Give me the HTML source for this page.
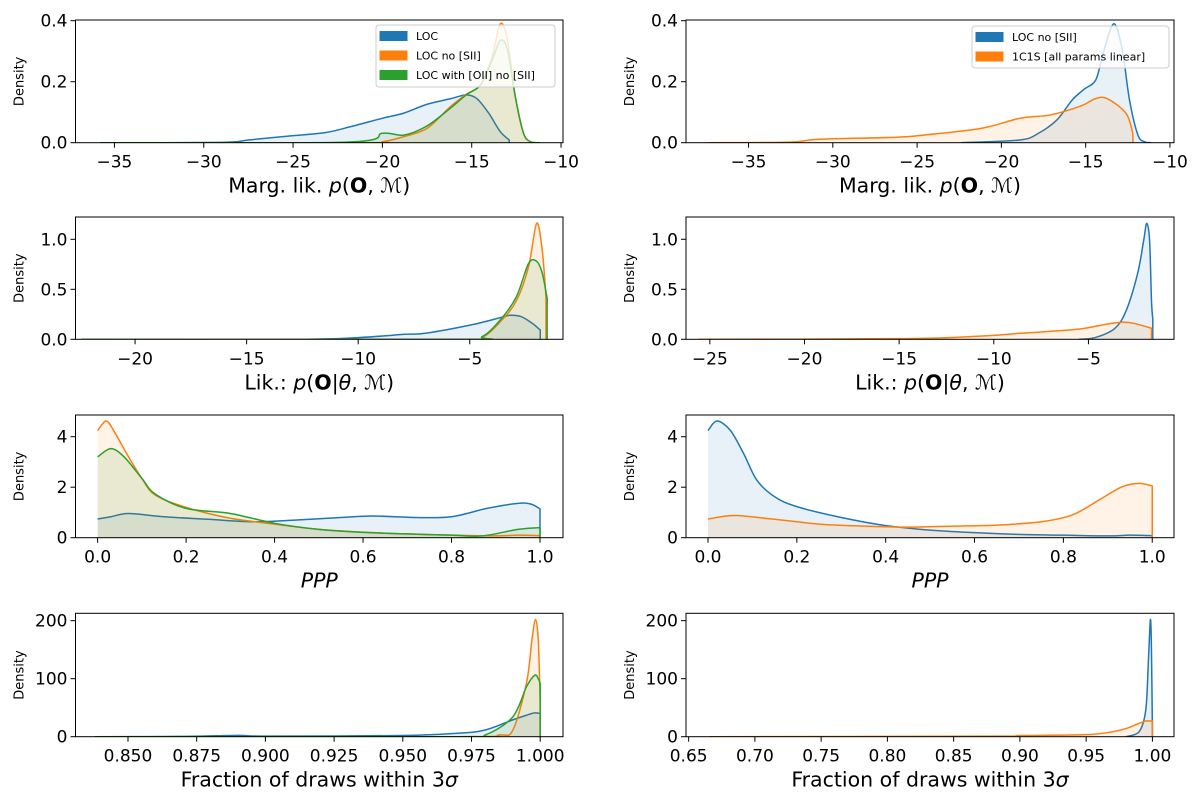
<!DOCTYPE html>
<html><head><meta charset="utf-8">
<style>
html,body{margin:0;padding:0;background:#fff;}
svg{display:block;font-family:"DejaVu Sans","Liberation Sans",sans-serif;}
</style></head>
<body>
<svg id="fig" width="1200" height="799" viewBox="0 0 1200 799" xmlns="http://www.w3.org/2000/svg"></svg>
<script>
// ---- Data arrays ----
const r1L_loc_x = [-35.8,-29,-27.5,-25.2,-23.2,-21.75,-20.0,-18.8,-17.5,-16.2,-15.3,-14.7,-14.05,-13.4,-12.9];
const r1L_loc_y = [0,0.001,0.009,0.022,0.033,0.053,0.080,0.097,0.126,0.144,0.157,0.144,0.097,0.036,0.009];
const r1L_nos_x = [-35.8,-21,-20,-18.8,-17.5,-16.2,-15.3,-14.5,-13.85,-13.4,-13.0,-12.56,-12.1,-11.7,-11.2];
const r1L_nos_y = [0,0,0.003,0.02,0.047,0.118,0.159,0.19,0.283,0.39,0.338,0.151,0.031,0.003,0];
const r1L_oii_x = [-35.8,-22,-20,-18.8,-17.5,-16.2,-15.3,-14.5,-13.85,-13.4,-13.0,-12.56,-12.1,-11.7,-11.2];
const r1L_oii_y = [0,0.002,0.031,0.025,0.055,0.113,0.157,0.19,0.272,0.335,0.305,0.151,0.031,0.003,0];
const r1R_nos_x = [-22.4,-18.9,-17.8,-16.7,-15.8,-15.1,-14.4,-13.96,-13.33,-12.83,-12.4,-11.9,-11.5,-11.13];
const r1R_nos_y = [0,0.009,0.031,0.075,0.14,0.175,0.206,0.294,0.39,0.305,0.14,0.025,0.003,0];
const r1R_c1s_x = [-37.4,-32.5,-30.9,-26.2,-24.6,-21.2,-18.9,-17.1,-15.3,-14.4,-13.7,-12.6,-12.2];
const r1R_c1s_y = [0,0.002,0.011,0.018,0.025,0.047,0.08,0.091,0.12,0.145,0.144,0.096,0.031];
const r2L_loc_x = [-22.4,-12.75,-10,-7.9,-7.0,-4.96,-3.57,-3.2,-2.7,-2.2,-1.84];
const r2L_loc_y = [0,0,0.017,0.05,0.06,0.143,0.22,0.24,0.227,0.16,0.093];
const r2L_nos_x = [-22.4,-5.5,-4.44,-3.57,-2.9,-2.36,-2.0,-1.75,-1.58];
const r2L_nos_y = [0,0,0.02,0.19,0.39,0.73,1.16,0.89,0.41];
const r2L_oii_x = [-22.4,-5.5,-4.44,-3.57,-2.9,-2.36,-2.0,-1.75,-1.53];
const r2L_oii_y = [0,0,0.027,0.21,0.43,0.76,0.78,0.66,0.41];
const r2R_nos_x = [-5.5,-4.6,-3.6,-3.0,-2.4,-2.08,-1.92,-1.77,-1.67,-1.6];
const r2R_nos_y = [0,0.02,0.11,0.29,0.66,0.99,1.16,0.99,0.39,0.2];
const r2R_c1s_x = [-25.6,-14.7,-10.6,-8.6,-5.6,-4.0,-3.2,-2.6,-1.67];
const r2R_c1s_y = [0,0.007,0.033,0.06,0.1,0.153,0.17,0.16,0.11];
const r3L_loc_x = [0,0.03,0.07,0.15,0.25,0.35,0.45,0.55,0.62,0.72,0.8,0.88,0.95,0.98,1.0];
const r3L_loc_y = [0.74,0.83,0.96,0.83,0.73,0.63,0.70,0.80,0.86,0.80,0.83,1.16,1.36,1.33,1.14];
const r3L_nos_x = [0,0.02,0.04,0.07,0.1,0.13,0.2,0.3,0.4,0.5,0.6,0.7,0.8,0.9,0.95,1.0];
const r3L_nos_y = [4.24,4.62,4.13,3.2,2.35,1.69,1.2,0.77,0.54,0.33,0.22,0.15,0.1,0.07,0.1,0.08];
const r3L_oii_x = [0,0.03,0.06,0.1,0.13,0.2,0.3,0.4,0.5,0.6,0.7,0.8,0.87,0.95,1.0];
const r3L_oii_y = [3.2,3.53,3.2,2.35,1.73,1.16,0.96,0.57,0.33,0.21,0.15,0.1,0.07,0.33,0.4];
const r3R_nos_x = [0,0.02,0.05,0.08,0.11,0.15,0.2,0.3,0.4,0.5,0.6,0.7,0.8,0.9,0.95,1.0];
const r3R_nos_y = [4.24,4.62,4.26,3.34,2.28,1.62,1.23,0.8,0.48,0.3,0.2,0.13,0.1,0.07,0.1,0.08];
const r3R_c1s_x = [0,0.06,0.15,0.25,0.35,0.45,0.55,0.65,0.75,0.82,0.88,0.93,0.97,1.0];
const r3R_c1s_y = [0.74,0.88,0.73,0.54,0.46,0.42,0.46,0.5,0.63,0.9,1.49,2.0,2.15,2.05];
const r4L_loc_x = [0.838,0.87,0.89,0.90,0.95,0.97,0.98,0.99,0.995,0.998,1.0];
const r4L_loc_y = [0,0.5,2.3,1,2,6,11.5,29,37,41,40];
const r4L_nos_x = [0.838,0.97,0.985,0.99,0.995,0.997,0.9983,0.9993,1.0];
const r4L_nos_y = [0,0,3,11,92,167,202,167,60];
const r4L_oii_x = [0.838,0.97,0.98,0.99,0.995,0.998,0.9993,1.0];
const r4L_oii_y = [0,0,3,34,86,106,100,92];
const r4R_nos_x = [0.98,0.99,0.995,0.997,0.9985,0.9993,1.0];
const r4R_nos_y = [0,8.6,46,132,202,149,10];
const r4R_c1s_x = [0.666,0.88,0.9,0.95,0.97,0.98,0.99,0.995,1.0];
const r4R_c1s_y = [0,1,2,3.5,8.6,14,23,27,27];

const r1L_ticks = [-35,-30,-25,-20,-15,-10];
const r1R_ticks = [-35,-30,-25,-20,-15,-10];
const r1_yticks = [0.0,0.2,0.4];
const r2L_ticks = [-20,-15,-10,-5];
const r2R_ticks = [-25,-20,-15,-10,-5];
const r2_yticks = [0.0,0.5,1.0];
const r3_ticks = [0.0,0.2,0.4,0.6,0.8,1.0];
const r3_yticks = [0,2,4];
const r4L_ticks = [0.850,0.875,0.900,0.925,0.950,0.975,1.000];
const r4R_ticks = [0.65,0.70,0.75,0.80,0.85,0.90,0.95,1.00];
const r4_yticks = [0,100,200];

const BLUE="#1f77b4", ORANGE="#ff7f0e", GREEN="#2ca02c";
const NS="http://www.w3.org/2000/svg";
const svg=document.getElementById('fig');
function el(tag,attrs,parent){const e=document.createElementNS(NS,tag);for(const k in attrs)e.setAttribute(k,attrs[k]);(parent||svg).appendChild(e);return e;}

function smoothPath(P){
  let d='M'+P[0][0].toFixed(2)+','+P[0][1].toFixed(2);
  for(let i=0;i<P.length-1;i++){
    const p0=P[Math.max(i-1,0)],p1=P[i],p2=P[i+1],p3=P[Math.min(i+2,P.length-1)];
    const t=0.16;
    const c1=[p1[0]+(p2[0]-p0[0])*t,p1[1]+(p2[1]-p0[1])*t];
    const c2=[p2[0]-(p3[0]-p1[0])*t,p2[1]-(p3[1]-p1[1])*t];
    d+='C'+c1[0].toFixed(2)+','+c1[1].toFixed(2)+' '+c2[0].toFixed(2)+','+c2[1].toFixed(2)+' '+p2[0].toFixed(2)+','+p2[1].toFixed(2);
  }
  return d;
}

function panel(o){
  const g=el('g',{});
  
  
  const sx=v=>o.x0+(v-o.xlim[0])/(o.xlim[1]-o.xlim[0])*(o.x1-o.x0);
  const sy=v=>o.y1-(v-o.ylim[0])/(o.ylim[1]-o.ylim[0])*(o.y1-o.y0);
  const clipId='clip-'+o.name;
  const cp=el('clipPath',{id:clipId},g); el('rect',{x:o.x0,y:o.y0,width:o.x1-o.x0,height:o.y1-o.y0},cp);
  const plot=el('g',{'clip-path':'url(#'+clipId+')'},g);
  o.series.forEach(s=>{
    const P=s.x.map((v,i)=>[sx(v),Math.min(sy(s.y[i]),sy(0))]);
    const d=smoothPath(P);
    const xe=sx(s.x[s.x.length-1]).toFixed(2), xs=sx(s.x[0]).toFixed(2), yb=sy(0).toFixed(2);
    const f=el('path',{d:d+'L'+xe+','+yb+'L'+xs+','+yb+'Z',fill:s.c,'fill-opacity':0.1,stroke:'none'},plot);
    
    
    const l=el('path',{d:d+'L'+xe+','+yb,fill:'none',stroke:s.c,'stroke-width':1.5,'stroke-linejoin':'round'},plot);
    
    
  });
  const fr=el('rect',{x:o.x0,y:o.y0,width:o.x1-o.x0,height:o.y1-o.y0,fill:'none',stroke:'#000','stroke-width':1},g);
  
  
  o.xticks.forEach(t=>{
    const x=sx(t);
    el('line',{x1:x,y1:o.y1,x2:x,y2:o.y1+5,stroke:'#000','stroke-width':1},g);
    const tx=el('text',{x:x,y:o.y1+25,'font-size':17,'text-anchor':'middle'},g);
    tx.textContent=(t<0?'\u2212':'')+Math.abs(t).toFixed(o.xdec);
    
    
  });
  o.yticks.forEach(t=>{
    const y=sy(t);
    el('line',{x1:o.x0-5,y1:y,x2:o.x0,y2:y,stroke:'#000','stroke-width':1},g);
    const tx=el('text',{x:o.x0-8,y:y+6,'font-size':17,'text-anchor':'end'},g);
    tx.textContent=t.toFixed(o.ydec);
    
    
  });
  const yl=el('text',{x:0,y:0,'font-size':13,'text-anchor':'middle',transform:'translate('+(o.x0-52)+','+((o.y0+o.y1)/2)+') rotate(-90)'},g);
  yl.textContent='Density';
  
  
  const xl=el('text',{x:(o.x0+o.x1)/2,y:o.y1+50,'font-size':20.5,'text-anchor':'middle'},g);
  xl.innerHTML=o.xlabel;
  
  
  return g;
}

const LBL_MARG='Marg. lik. <tspan font-style="italic">p</tspan>(<tspan font-weight="bold">O</tspan>, <tspan font-style="italic">ℳ</tspan>)';
const LBL_LIK='Lik.: <tspan font-style="italic">p</tspan>(<tspan font-weight="bold">O</tspan>|<tspan font-style="italic">θ</tspan>, <tspan font-style="italic">ℳ</tspan>)';
const LBL_PPP='<tspan font-style="italic">PPP</tspan>';
const LBL_FR='Fraction of draws within 3<tspan font-style="italic">σ</tspan>';

const LX0=75.5,LX1=563,RX0=686,RX1=1174;
const rows=[[20,142.7],[217,339.3],[415,537.7],[613.3,736.7]];

panel({name:'panel-marg-lik-left',x0:LX0,x1:LX1,y0:rows[0][0],y1:rows[0][1],xlim:[-37.18,-9.89],ylim:[0,0.4023],xticks:r1L_ticks,xdec:0,yticks:r1_yticks,ydec:1,xlabel:LBL_MARG,
 series:[{name:'loc',x:r1L_loc_x,y:r1L_loc_y,c:BLUE},{name:'loc-no-sii',x:r1L_nos_x,y:r1L_nos_y,c:ORANGE},{name:'loc-oii-no-sii',x:r1L_oii_x,y:r1L_oii_y,c:GREEN}]});
panel({name:'panel-marg-lik-right',x0:RX0,x1:RX1,y0:rows[0][0],y1:rows[0][1],xlim:[-38.71,-9.76],ylim:[0,0.4023],xticks:r1R_ticks,xdec:0,yticks:r1_yticks,ydec:1,xlabel:LBL_MARG,
 series:[{name:'loc-no-sii',x:r1R_nos_x,y:r1R_nos_y,c:BLUE},{name:'1c1s',x:r1R_c1s_x,y:r1R_c1s_y,c:ORANGE}]});
panel({name:'panel-lik-left',x0:LX0,x1:LX1,y0:rows[1][0],y1:rows[1][1],xlim:[-22.67,-0.82],ylim:[0,1.223],xticks:r2L_ticks,xdec:0,yticks:r2_yticks,ydec:1,xlabel:LBL_LIK,
 series:[{name:'loc',x:r2L_loc_x,y:r2L_loc_y,c:BLUE},{name:'loc-no-sii',x:r2L_nos_x,y:r2L_nos_y,c:ORANGE},{name:'loc-oii-no-sii',x:r2L_oii_x,y:r2L_oii_y,c:GREEN}]});
panel({name:'panel-lik-right',x0:RX0,x1:RX1,y0:rows[1][0],y1:rows[1][1],xlim:[-26.26,-0.48],ylim:[0,1.223],xticks:r2R_ticks,xdec:0,yticks:r2_yticks,ydec:1,xlabel:LBL_LIK,
 series:[{name:'loc-no-sii',x:r2R_nos_x,y:r2R_nos_y,c:BLUE},{name:'1c1s',x:r2R_c1s_x,y:r2R_c1s_y,c:ORANGE}]});
panel({name:'panel-ppp-left',x0:LX0,x1:LX1,y0:rows[2][0],y1:rows[2][1],xlim:[-0.05,1.052],ylim:[0,4.86],xticks:r3_ticks,xdec:1,yticks:r3_yticks,ydec:0,xlabel:LBL_PPP,
 series:[{name:'loc',x:r3L_loc_x,y:r3L_loc_y,c:BLUE},{name:'loc-no-sii',x:r3L_nos_x,y:r3L_nos_y,c:ORANGE},{name:'loc-oii-no-sii',x:r3L_oii_x,y:r3L_oii_y,c:GREEN}]});
panel({name:'panel-ppp-right',x0:RX0,x1:RX1,y0:rows[2][0],y1:rows[2][1],xlim:[-0.0495,1.049],ylim:[0,4.86],xticks:r3_ticks,xdec:1,yticks:r3_yticks,ydec:0,xlabel:LBL_PPP,
 series:[{name:'loc-no-sii',x:r3R_nos_x,y:r3R_nos_y,c:BLUE},{name:'1c1s',x:r3R_c1s_x,y:r3R_c1s_y,c:ORANGE}]});
panel({name:'panel-frac-left',x0:LX0,x1:LX1,y0:rows[3][0],y1:rows[3][1],xlim:[0.8309,1.0083],ylim:[0,212.7],xticks:r4L_ticks,xdec:3,yticks:r4_yticks,ydec:0,xlabel:LBL_FR,
 series:[{name:'loc',x:r4L_loc_x,y:r4L_loc_y,c:BLUE},{name:'loc-no-sii',x:r4L_nos_x,y:r4L_nos_y,c:ORANGE},{name:'loc-oii-no-sii',x:r4L_oii_x,y:r4L_oii_y,c:GREEN}]});
panel({name:'panel-frac-right',x0:RX0,x1:RX1,y0:rows[3][0],y1:rows[3][1],xlim:[0.648,1.0163],ylim:[0,212.7],xticks:r4R_ticks,xdec:2,yticks:r4_yticks,ydec:0,xlabel:LBL_FR,
 series:[{name:'loc-no-sii',x:r4R_nos_x,y:r4R_nos_y,c:BLUE},{name:'1c1s',x:r4R_c1s_x,y:r4R_c1s_y,c:ORANGE}]});

function legend(name,x,y,w,h,entries){
  const g=el('g',{});
  
  
  el('rect',{x:x,y:y,width:w,height:h,rx:3,fill:'#fff','fill-opacity':0.8,stroke:'#ccc','stroke-width':1},g);
  entries.forEach((e,i)=>{
    const cy=y+11+i*19.5;
    el('rect',{x:x+4,y:cy-4.5,width:27,height:9,fill:e.c,stroke:e.c},g);
    const t=el('text',{x:x+40,y:cy+4,'font-size':11},g);
    t.textContent=e.t;
    
    
  });
}
legend('legend-left',376,25,179,62,[{t:'LOC',c:BLUE},{t:'LOC no [SII]',c:ORANGE},{t:'LOC with [OII] no [SII]',c:GREEN}]);
legend('legend-right',972,26,197,42,[{t:'LOC no [SII]',c:BLUE},{t:'1C1S [all params linear]',c:ORANGE}]);
</script>
</body></html>
